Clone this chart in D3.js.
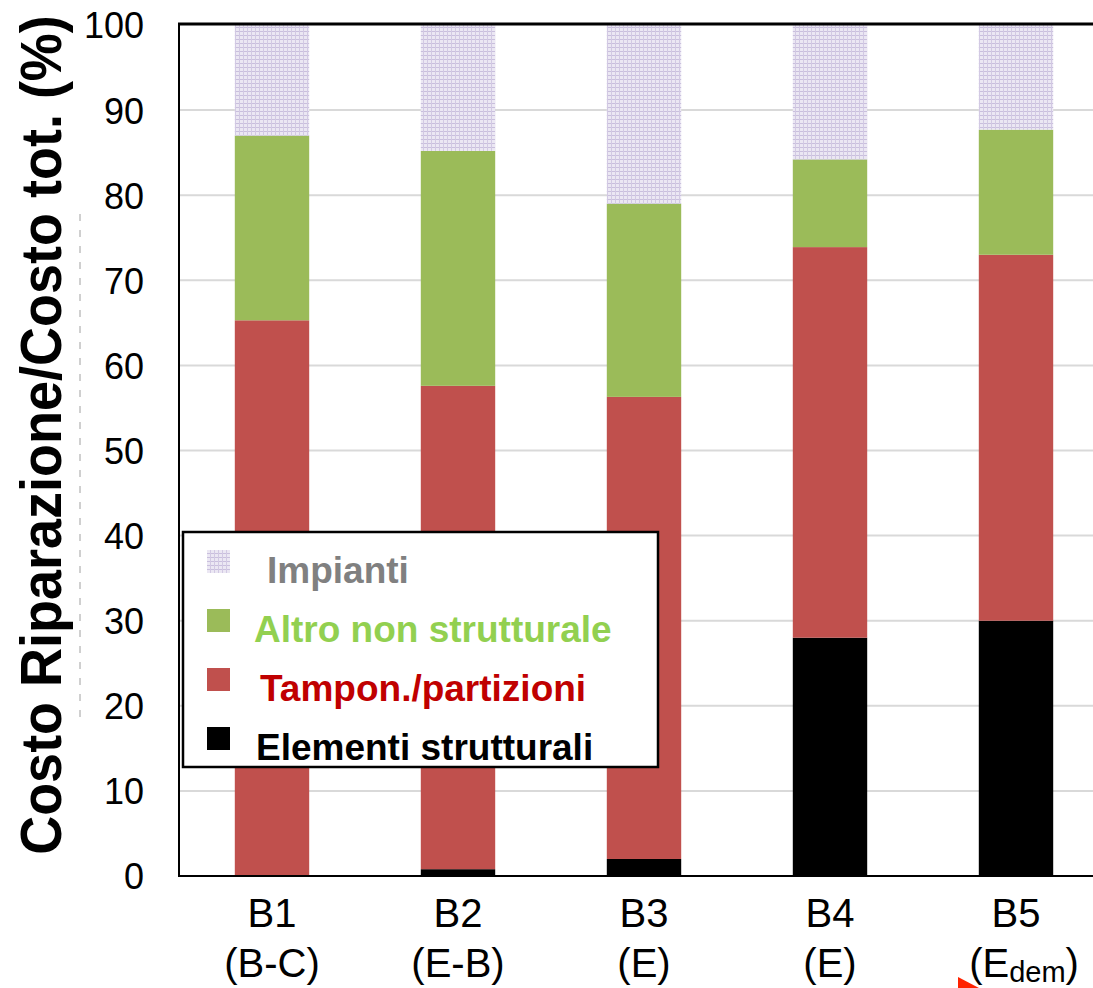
<!DOCTYPE html>
<html>
<head>
<meta charset="utf-8">
<script src="https://cdn.jsdelivr.net/npm/d3@7"></script>
<style>
  html, body { margin: 0; padding: 0; background: #fff; }
  svg { display: block; font-family: "Liberation Sans", Arial, sans-serif; }
</style>
</head>
<body>
<svg id="chart" width="1093" height="988"></svg>
<script>
// Building cases and their damage-state labels
const categories = ["B1", "B2", "B3", "B4", "B5"];
const caseStates = ["B-C", "E-B", "E", "E", "E"];
const caseStateSubscripts = ["", "", "", "", "dem"];

// Share of repair cost per component (%)
const elementiStrutturali = [0, 0.8, 2.0, 28.0, 30.0];
const tamponPartizioni = [65.3, 56.8, 54.3, 45.9, 43.0];
const altroNonStrutturale = [21.7, 27.6, 22.7, 10.3, 14.7];
const impianti = [13.0, 14.8, 21.0, 15.8, 12.3];

const yTicks = [0, 10, 20, 30, 40, 50, 60, 70, 80, 90, 100];

const seriesKeys = ["elementi", "tampon", "altro", "impianti"];
const seriesNames = {
  impianti: "Impianti",
  altro: "Altro non strutturale",
  tampon: "Tampon./partizioni",
  elementi: "Elementi strutturali"
};
const fills = {
  elementi: "#000000",
  tampon: "#C0504D",
  altro: "#9BBB59",
  impianti: "url(#impiantiPattern)"
};
const legendTextColors = {
  impianti: "#808080",
  altro: "#92D050",
  tampon: "#C00000",
  elementi: "#000000"
};

const rows = categories.map((c, i) => ({
  cat: c,
  elementi: elementiStrutturali[i],
  tampon: tamponPartizioni[i],
  altro: altroNonStrutturale[i],
  impianti: impianti[i]
}));

const svg = d3.select("#chart");

// Fine lavender grid fill for the plant-systems segment
const defs = svg.append("defs");
const pat = defs.append("pattern")
  .attr("id", "impiantiPattern")
  .attr("patternUnits", "userSpaceOnUse")
  .attr("width", 4).attr("height", 4);
pat.append("rect").attr("width", 4).attr("height", 4).attr("fill", "#ebe7f3");
pat.append("rect").attr("x", 0).attr("y", 3).attr("width", 4).attr("height", 1).attr("fill", "#c9bfdd");
pat.append("rect").attr("x", 3).attr("y", 0).attr("width", 1).attr("height", 4).attr("fill", "#d2c9e3");

const plot = { left: 179, right: 1109, top: 25, bottom: 876 };

const x = d3.scaleBand()
  .domain(categories)
  .range([plot.left, plot.right])
  .paddingInner(0.6)
  .paddingOuter(0.3);

const y = d3.scaleLinear()
  .domain([0, 100])
  .range([plot.bottom, plot.top]);

// Horizontal gridlines
svg.append("g")
  .selectAll("line")
  .data(yTicks.filter(t => t > 0 && t < 100))
  .join("line")
  .attr("x1", plot.left).attr("x2", 1093)
  .attr("y1", d => y(d)).attr("y2", d => y(d))
  .attr("stroke", "#d9d9d9")
  .attr("stroke-width", 2);

// Stacked bars
const stacked = d3.stack().keys(seriesKeys)(rows);
svg.append("g")
  .selectAll("g")
  .data(stacked)
  .join("g")
  .attr("fill", d => fills[d.key])
  .selectAll("rect")
  .data(d => d)
  .join("rect")
  .attr("x", d => x(d.data.cat))
  .attr("width", x.bandwidth())
  .attr("y", d => y(d[1]))
  .attr("height", d => y(d[0]) - y(d[1]));

// Frame: left axis, baseline and top border
svg.append("line")
  .attr("x1", plot.left).attr("x2", plot.left)
  .attr("y1", plot.top - 1).attr("y2", plot.bottom + 1)
  .attr("stroke", "#000").attr("stroke-width", 2);
svg.append("line")
  .attr("x1", plot.left - 1).attr("x2", 1093)
  .attr("y1", plot.bottom).attr("y2", plot.bottom)
  .attr("stroke", "#000").attr("stroke-width", 2);
svg.append("line")
  .attr("x1", plot.left - 1).attr("x2", 1093)
  .attr("y1", plot.top - 1).attr("y2", plot.top - 1)
  .attr("stroke", "#000").attr("stroke-width", 3);

// Y axis tick labels
const yAxis = d3.axisLeft(y).tickValues(yTicks).tickSize(0).tickPadding(0);
const yAxisG = svg.append("g")
  .attr("transform", `translate(144,0)`)
  .call(yAxis);
yAxisG.select(".domain").remove();
yAxisG.selectAll("text")
  .attr("font-family", "'Liberation Sans', Arial, sans-serif")
  .attr("font-size", 36)
  .attr("fill", "#000")
  .attr("dy", "0.36em");

// Faint dashed guide left of the tick labels
svg.append("line")
  .attr("x1", 80).attr("x2", 80)
  .attr("y1", 214).attr("y2", 717)
  .attr("stroke", "#a0a0a0")
  .attr("stroke-width", 1)
  .attr("stroke-dasharray", "7 9");

// Y axis title, condensed horizontally to fit the axis height
const yTitleG = svg.append("g").attr("transform", "translate(61,435) rotate(-90)");
const yTitle = yTitleG.append("text")
  .attr("text-anchor", "middle")
  .attr("font-size", 58)
  .attr("font-weight", "bold")
  .attr("fill", "#000")
  .text("Costo Riparazione/Costo tot. (%)");
const naturalLen = yTitle.node().getComputedTextLength();
yTitle.attr("transform", `scale(${840 / naturalLen},1)`);

// X category labels (two lines, optional subscript)
const xl = svg.append("g")
  .selectAll("text")
  .data(categories)
  .join("text")
  .attr("text-anchor", "middle")
  .attr("font-size", 40)
  .attr("fill", "#000");
xl.append("tspan")
  .attr("x", d => x(d) + x.bandwidth() / 2)
  .attr("y", 927)
  .text(d => d);
xl.each(function(d, i) {
  const t = d3.select(this).append("tspan")
    .attr("x", x(d) + x.bandwidth() / 2 + (caseStateSubscripts[i] ? 8 : 0))
    .attr("y", 977);
  if (caseStateSubscripts[i]) {
    t.text("(" + caseStates[i]);
    d3.select(this).append("tspan")
      .attr("font-size", 29)
      .attr("dy", 5)
      .text(caseStateSubscripts[i]);
    d3.select(this).append("tspan")
      .attr("dy", -5)
      .text(")");
  } else {
    t.text("(" + caseStates[i] + ")");
  }
});

// Legend
const legend = svg.append("g");
legend.append("rect")
  .attr("x", 183).attr("y", 532)
  .attr("width", 475).attr("height", 235)
  .attr("fill", "#fff")
  .attr("stroke", "#000")
  .attr("stroke-width", 2.5);
const legendOrder = ["impianti", "altro", "tampon", "elementi"];
const li = legend.selectAll("g.item")
  .data(legendOrder)
  .join("g")
  .attr("class", "item")
  .attr("transform", (d, i) => `translate(207,${550 + i * 59})`);
li.append("rect")
  .attr("width", 23).attr("height", 23)
  .attr("fill", d => fills[d]);
li.append("text")
  .attr("x", (d, i) => [60, 47, 53, 49][i])
  .attr("y", 33)
  .attr("font-size", 37)
  .attr("font-weight", "bold")
  .attr("fill", d => legendTextColors[d])
  .text(d => seriesNames[d]);

// Small red pointer mark near the last label
svg.append("path")
  .attr("d", "M958,977 L979,988 L958,988 Z")
  .attr("fill", "#ff2200");
</script>
</body>
</html>
